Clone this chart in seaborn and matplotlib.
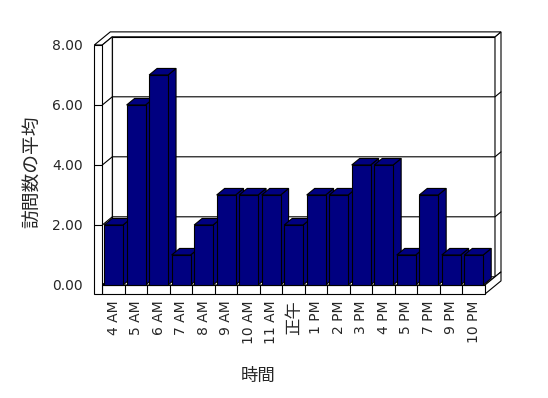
import matplotlib
matplotlib.use('Agg')
import matplotlib.pyplot as plt
import seaborn as sns
import pandas as pd
from matplotlib.patches import Polygon

categories = ['4 AM', '5 AM', '6 AM', '7 AM', '8 AM', '9 AM', '10 AM', '11 AM', '正午',
              '1 PM', '2 PM', '3 PM', '4 PM', '5 PM', '7 PM', '9 PM', '10 PM']
values = [2, 6, 7, 1, 2, 3, 3, 3, 2, 3, 3, 4, 4, 1, 3, 1, 1]
y_ticks = [0, 2, 4, 6, 8]
y_tick_labels = ['0.00', '2.00', '4.00', '6.00', '8.00']
x_label = '時間'
y_label = '訪問数の平均'

sns.set_style('white')
plt.rcParams['font.family'] = ['DejaVu Sans', 'Noto Sans CJK JP']

W, H = 548, 398
fig = plt.figure(figsize=(W / 100, H / 100), dpi=100)
L, R, T, B = 102.3, 485.0, 45.0, 285.0
ax = fig.add_axes([L / W, (H - B) / H, (R - L) / W, (B - T) / H])

df = pd.DataFrame({'cat': categories, 'val': values})
sns.barplot(data=df, x='cat', y='val', color='#000080', saturation=1, width=0.84,
            edgecolor='black', linewidth=0.8, ax=ax)
bars = list(ax.patches)
n = len(categories)
ax.set_xlim(-0.5, n - 0.5)
ax.set_ylim(0, 8)

sx = (R - L) / n
sy = (B - T) / 8
K = 0.82


def P(x, y, z):
    return (x + z / sx, y + K * z / sy)


xl = -0.5
xr = n - 0.5
xo = xl - 8 / sx
Tf = 9 / sy
ZB = 10
ZO = 16
lw = 0.8


def poly(pts, fc='white', z=1):
    p = Polygon(pts, closed=True, facecolor=fc, edgecolor='black', linewidth=lw,
                zorder=z, clip_on=False, joinstyle='miter')
    ax.add_patch(p)


def line(pts, z=2):
    xs = [p[0] for p in pts]
    ys = [p[1] for p in pts]
    ax.plot(xs, ys, color='black', linewidth=lw, zorder=z, clip_on=False,
            solid_joinstyle='miter')


# back wall face and right end
poly([P(xl, 0, ZB), P(xr, 0, ZB), P(xr, 8, ZB), P(xl, 8, ZB)])
poly([P(xr, 0, ZB), P(xr, 0, ZO), P(xr, 8, ZO), P(xr, 8, ZB)])
# L-shaped top of walls
poly([P(xo, 8, 0), P(xl, 8, 0), P(xl, 8, ZB), P(xr, 8, ZB), P(xr, 8, ZO), P(xo, 8, ZO)])
# left wall inner face
poly([P(xl, 0, 0), P(xl, 0, ZB), P(xl, 8, ZB), P(xl, 8, 0)])
# floor
poly([P(xl, 0, 0), P(xr, 0, 0), P(xr, 0, ZB), P(xl, 0, ZB)])
poly([P(xr, -Tf, 0), P(xr, -Tf, ZO), P(xr, 0, ZO), P(xr, 0, 0)])
poly([P(xl, -Tf, 0), P(xr, -Tf, 0), P(xr, 0, 0), P(xl, 0, 0)])
# left wall front face
poly([P(xo, -Tf, 0), P(xl, -Tf, 0), P(xl, 8, 0), P(xo, 8, 0)])

for v in y_ticks[1:-1]:
    line([P(xl, v, 0), P(xl, v, ZB), P(xr, v, ZB), P(xr, v, ZO)])
    line([(xo, v), (xl, v)])
for i in range(n - 1):
    line([(i + 0.5, -Tf), (i + 0.5, 0)])

# 3D bars
D = 8
for i, r in enumerate(bars):
    x0 = r.get_x()
    w = r.get_width()
    h = r.get_height()
    poly([P(x0 + w, 0, 0), P(x0 + w, 0, D), P(x0 + w, h, D), P(x0 + w, h, 0)],
         fc='#000080', z=10 + 2 * i)
    poly([P(x0, h, 0), P(x0 + w, h, 0), P(x0 + w, h, D), P(x0, h, D)],
         fc='#000080', z=10 + 2 * i)
    r.set_zorder(11 + 2 * i)
    r.set_clip_on(False)

for s in ax.spines.values():
    s.set_visible(False)
ax.set_facecolor('none')
ax.set_yticks(y_ticks)
ax.set_yticklabels(y_tick_labels, fontsize=10)
ax.set_xticks(range(n))
ax.set_xticklabels(categories, fontsize=10, rotation=90)
for t in ax.get_xticklabels():
    if any(ord(c) > 0x2000 for c in t.get_text()):
        t.set_fontsize(12.5)
ax.tick_params(axis='y', length=0, pad=14)
ax.tick_params(axis='x', length=0, pad=11)
ax.set_xlabel('')
ax.set_ylabel('')

fig.text(258 / W, 1 - 376 / H, x_label, ha='center', va='center', fontsize=12.5)
fig.text(33 / W, 1 - 172 / H, y_label, ha='center', va='center', rotation=90, fontsize=13.5)

fig.savefig('out.png', dpi=100, facecolor='white')
